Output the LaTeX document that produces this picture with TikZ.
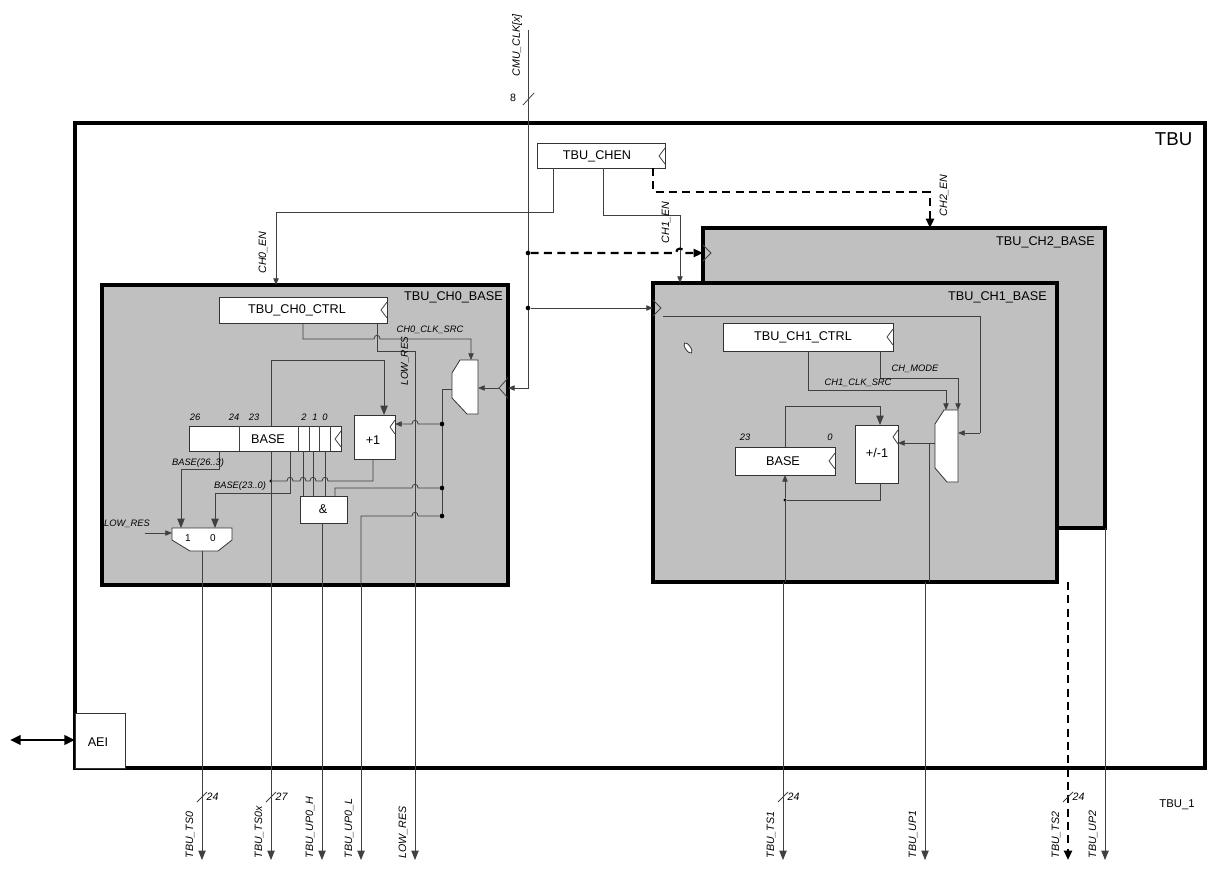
\documentclass[tikz,border=0pt]{standalone}
\usepackage{fontspec}
\setmainfont{Liberation Sans}
\usetikzlibrary{arrows.meta}
\definecolor{blk}{HTML}{C0C0C0}
\begin{document}
\begin{tikzpicture}[x=0.75pt,y=-0.75pt,
  thin/.style={line width=0.6pt,draw=black!75},
  thk/.style={line width=2.4pt},
  blkbox/.style={thk,fill=blk},
  box/.style={line width=0.6pt,draw=black!80,fill=white},
  dsh/.style={line width=1.6pt,dash pattern=on 6pt off 4pt},
  tip/.style={-{Triangle[length=7pt,width=5.5pt]}},
  stip/.style={-{Triangle[length=5pt,width=4pt]}},
  lbl/.style={font=\fontsize{7}{8}\selectfont\itshape,inner sep=1pt},
  txt/.style={font=\fontsize{9.5}{11}\selectfont,inner sep=0pt},
  dot/.style={circle,fill=black,inner sep=0pt,minimum size=3.5pt}]
\useasboundingbox (0,0) rectangle (1219,870);
% outer
\draw[line width=3pt] (75,123) rectangle (1205,768);
\node[font=\fontsize{14}{16}\selectfont,anchor=north east] (tbu) at (1197,128) {TBU};
\draw[box] (75,713) rectangle (125,768);
\node[txt] (aei) at (98,742) {AEI};
\coordinate (aeil) at (75,740); \coordinate (aeix) at (10,740);
\draw[line width=2pt,{Triangle[length=8pt,width=7pt]}-{Triangle[length=8pt,width=7pt]}] (aeix) -- (aeil);
% CMU clock
\coordinate (clk0) at (528,30); \coordinate (clkb) at (528,388);
\node[lbl,font=\fontsize{8}{9}\selectfont\itshape,rotate=90,anchor=west] (cmu) at (517,78) {CMU\_CLK[x]};
\draw[thin] (523,105) -- (534,93);
\node[font=\fontsize{8}{9}\selectfont] (eight) at (513,98) {8};
% blocks
\draw[blkbox] (703,228) rectangle (1105,528);
\node[txt,anchor=north east] (ch2) at (1095,236) {TBU\_CH2\_BASE};
\draw[thin] (703,245) -- (711,253) -- (703,261);
\draw[blkbox] (653,283) rectangle (1057,582);
\node[txt,anchor=north east] (ch1) at (1047,291) {TBU\_CH1\_BASE};
\draw[thin] (653,300) -- (661,308) -- (653,316);
\draw[blkbox] (102,285) rectangle (508,585);
\node[txt,anchor=north east] (ch0) at (503,291) {TBU\_CH0\_BASE};
\draw[thin] (508,378) -- (499,388) -- (508,398);
% CHEN
\draw[box] (537,143) rectangle (665,168);
\node[txt] (chen) at (597,156) {TBU\_CHEN};
\draw[thin] (665,148) -- (659,156) -- (665,164);
\draw[thin,stip] (553,168) -- (553,212) -- (276,212) -- (276,285);
\node[lbl,font=\fontsize{8}{9}\selectfont\itshape,rotate=90,anchor=west] (ch0en) at (263,275) {CH0\_EN};
\draw[thin,stip] (603,168) -- (603,215) -- (680,215) -- (680,283);
\node[lbl,font=\fontsize{8}{9}\selectfont\itshape,rotate=90,anchor=west] (ch1en) at (666,245) {CH1\_EN};
\draw[dsh,-{Triangle[length=7pt,width=6pt]}] (653,168) -- (653,192) -- (930,192) -- (930,228);
\node[lbl,font=\fontsize{8}{9}\selectfont\itshape,rotate=90,anchor=west] (ch2en) at (944,218) {CH2\_EN};
% clock distribution
\draw[thin,stip] (clk0) -- (528,388) -- (508,388);
\node[dot] (d1) at (528,253) {}; \node[dot] (d2) at (528,308) {};
\draw[dsh,-{Triangle[length=7pt,width=6pt]}] (d1) -- (676,253) .. controls (676,247) and (684,247) .. (684,253) -- (703,253);
\draw[thin,stip] (d2) -- (653,308);
% ===== CH0 internals
\draw[box] (219,297) rectangle (387,323);
\node[txt] (ctrl0) at (297,310) {TBU\_CH0\_CTRL};
\draw[thin] (387,302) -- (381,310) -- (387,318);
\draw[thin,stip] (303,323) -- (303,339) -- (374,339) .. controls (374,334) and (380,334) .. (380,339) -- (471,339) -- (471,360);
\node[lbl] (clksrc0) at (430,330) {CH0\_CLK\_SRC};
\draw[thin] (377,323) -- (377,351) -- (415,351) -- (415,585);
\node[lbl,font=\fontsize{7.5}{9}\selectfont\itshape,rotate=90,anchor=west] (lowres) at (405,387) {LOW\_RES};
% mux0
\draw[box] (460,360) -- (478,360) -- (478,414) -- (467,414) -- (452,398) -- (452,373) -- cycle;
\draw[thin,stip] (499,388) -- (478,388);
\draw[thin] (452,389) -- (442,389) -- (442,516);
\node[dot] (m1) at (442,424) {}; \node[dot] (m2) at (442,488) {}; \node[dot] (m3) at (442,516) {};
% +1
\draw[box] (354,415) rectangle (395,459);
\node[txt] (plus1) at (373,440) {+1};
\draw[thin] (395,420) -- (390,427) -- (395,434);
\draw[thin,stip] (m1) -- (418,424) .. controls (418,419) and (412,419) .. (412,424) -- (395,424);
% BASE register
\draw[box] (189,426) rectangle (341,451);
\foreach \xx in {239,298,309,319,330} \draw[thin] (\xx,426) -- (\xx,451);
\node[txt] (base0) at (268,439) {BASE};
\draw[thin] (341,431) -- (335,439) -- (341,447);
\foreach \xx/\t in {195/26,234/24,254/23,304/2,315/1,325/0} \node[lbl] at (\xx,417) {\t};
\draw[thin,tip] (271,426) -- (271,360) -- (384,360) -- (384,415);
% +1 output feedback
\node[dot,minimum size=2.5pt] (fb0) at (271,481) {};
\draw[thin] (373,459) -- (373,481) -- (328,481)
  \foreach \xx in {325,313,303,290} { -- (\xx+3,481) .. controls (\xx+3,476) and (\xx-3,476) .. (\xx-3,481) } -- (fb0);
% & gate
\draw[box] (300,496) rectangle (347,523);
\node[txt] (and0) at (323,509) {\&};
\foreach \xx in {303,313,325} \draw[thin] (\xx,451) -- (\xx,496);
\draw[thin] (m2) -- (418,488) .. controls (418,483) and (412,483) .. (412,488) -- (335,488) -- (335,496);
\draw[thin] (m3) -- (418,516) .. controls (418,511) and (412,511) .. (412,516) -- (361,516) -- (361,585);
% mux1 bottom
\draw[box] (172,528) -- (232,528) -- (232,540) -- (218,551) -- (190,551) -- (172,540) -- cycle;
\node[lbl,font=\fontsize{7.5}{9}\selectfont] at (188,538) {1};
\node[lbl,font=\fontsize{7.5}{9}\selectfont] at (213,538) {0};
\draw[thin,tip] (219,451) -- (219,469) -- (181,469) -- (181,528);
\node[lbl] (b263) at (198,463) {BASE(26..3)};
\draw[thin,tip] (290,451) -- (290,493) -- (215,493) -- (215,528);
\node[lbl] (b230) at (240,486) {BASE(23..0)};
\draw[thin,stip] (145,533) -- (172,533);
\node[lbl] (lr2) at (127,524) {LOW\_RES};
% ===== CH1 internals
\draw[thin] (663,316) -- (980,316) -- (980,433);
\draw[box,rotate around={-55:(688,348)}] (688,348) ellipse (6 and 2.5);
\draw[box] (723,323) rectangle (893,351);
\node[txt] (ctrl1) at (803,337) {TBU\_CH1\_CTRL};
\draw[thin] (893,329) -- (887,337) -- (893,345);
\draw[thin,stip] (880,351) -- (880,378) -- (958,378) -- (958,410);
\node[lbl] (chmode) at (915,369) {CH\_MODE};
\draw[thin,stip] (808,351) -- (808,390) -- (946,390) -- (946,410);
\node[lbl] (clksrc1) at (858,383) {CH1\_CLK\_SRC};
\draw[box] (944,410) -- (958,410) -- (958,482) -- (947,482) -- (935,468) -- (935,424) -- cycle;
\draw[thin,stip] (980,433) -- (958,433);
\draw[box] (855,425) rectangle (898,483);
\node[txt] (pm1) at (877,453) {+/-1};
\draw[thin] (898,430) -- (893,437) -- (898,444);
\draw[thin,stip] (935,443) -- (898,443);
\draw[box] (735,447) rectangle (835,475);
\node[txt] (base1) at (783,461) {BASE};
\draw[thin] (835,453) -- (829,461) -- (835,469);
\node[lbl] at (745,437) {23}; \node[lbl] at (830,437) {0};
\draw[thin,tip] (785,447) -- (785,406) -- (880,406) -- (880,425);
\node[dot,minimum size=2.5pt] (fb1) at (785,500) {};
\draw[thin] (880,483) -- (880,500) -- (fb1);
\draw[thin,stip] (fb1) -- (785,475);
% ===== outputs
\foreach \xx in {202,271,322,361,415,783,925,1105}
  \draw[thin,tip] (\xx,780) -- (\xx,860);
\draw[thin] (202,551) -- (202,780);
\draw[thin] (271,451) -- (271,780);
\draw[thin] (322,523) -- (322,780);
\draw[thin] (361,585) -- (361,780);
\draw[thin] (415,585) -- (415,780);
\draw[thin] (785,500) -- (785,582) (783,582) -- (783,780);
\draw[thin] (929,443) -- (929,582) (925,582) -- (925,780);
\draw[thin] (1105,528) -- (1105,780);
\draw[dsh,-{Triangle[length=7pt,width=6pt]}] (1068,582) -- (1068,860);
\foreach \xx/\n in {202/24,271/27,783/24,1068/24} {
  \draw[thin] (\xx-5,802) -- (\xx+5,792);
  \node[lbl,font=\fontsize{8}{9}\selectfont\itshape,anchor=west] at (\xx+3,797) {\n};}
\foreach \xx/\t in {202/TBU\_TS0,271/TBU\_TS0x,322/TBU\_UP0\_H,361/TBU\_UP0\_L,415/LOW\_RES,783/TBU\_TS1,925/TBU\_UP1,1068/TBU\_TS2,1105/TBU\_UP2}
  \node[lbl,font=\fontsize{8}{9}\selectfont\itshape,rotate=90,anchor=west] at (\xx-12,860) {\t};
\node[txt,font=\fontsize{8.5}{10}\selectfont] (tbu1) at (1177,805) {TBU\_1};
\end{tikzpicture}
\end{document}
